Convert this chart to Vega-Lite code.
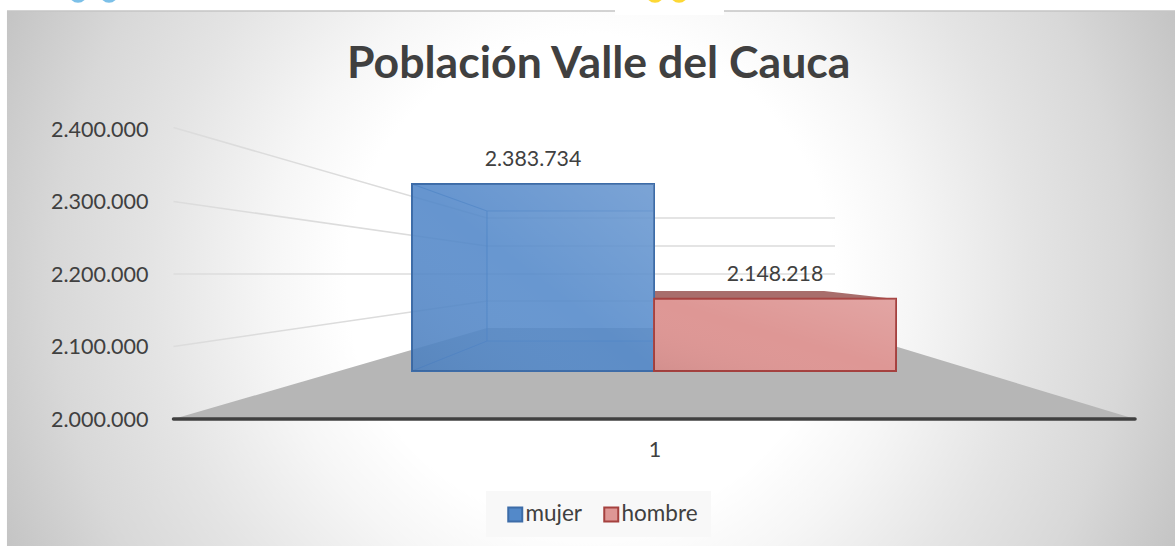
{
"$schema":"https://vega.github.io/schema/vega-lite/v6.json",
"width":1175,"height":546,"padding":0,"autosize":{"type":"none"},"background":"#ffffff",
"title":{"text":"Población Valle del Cauca","fontSize":44.6,"font":"Lato","fontWeight":"bold","color":"#404040","anchor":"start","frame":"group","offset":-102,"dx":347},
"config":{"view":{"stroke":null},"locale":{"number":{"decimal":",","thousands":".","grouping":[3],"currency":["","€"]}}},
"datasets":{
"poblacion":[{"sexo":"mujer","poblacion":2383734},{"sexo":"hombre","poblacion":2148218}],
"fondo":[{"pieza":"panel","x":0.3269,"x2":1.5411,"y":2562759,"y2":951724},{"pieza":"parche","x":0.95894,"x2":1.07225,"y":2577931,"y2":2557241},{"pieza":"leyenda","x":0.82484,"x2":1.05873,"y":1900690,"y2":1837241}],
"logos":[{"logo":"a","x":0.40073,"y":2586207},{"logo":"a","x":0.43295,"y":2586207},{"logo":"b","x":1.00052,"y":2586207},{"logo":"b","x":1.02547,"y":2586207}],
"caras":[
{"pieza":"suelo","x":0.5,"y":2000000,"y2":2000000},{"pieza":"suelo","x":0.82588,"y":2125517,"y2":2000000},{"pieza":"suelo","x":1.18763,"y":2125517,"y2":2000000},{"pieza":"suelo","x":1.4995,"y":2000000,"y2":2000000},
{"pieza":"izquierda","x":0.74792,"y":2324138,"y2":2066207},{"pieza":"izquierda","x":0.82588,"y":2286897,"y2":2107586},
{"pieza":"techo","x":0.74792,"y":2324138,"y2":2324138},{"pieza":"techo","x":0.82588,"y":2324138,"y2":2286897},{"pieza":"techo","x":0.99948,"y":2324138,"y2":2286897},
{"pieza":"base","x":0.74792,"y":2066207,"y2":2066207},{"pieza":"base","x":0.82588,"y":2107586,"y2":2066207},{"pieza":"base","x":0.99948,"y":2107586,"y2":2066207},
{"pieza":"tapa","x":0.99948,"y":2176552,"y2":2165517},{"pieza":"tapa","x":1.1762,"y":2176552,"y2":2165517},{"pieza":"tapa","x":1.25104,"y":2165517,"y2":2165517}
],
"rejilla":[
{"linea":"g4","x":0.5,"y":2402000},{"linea":"g4","x":0.82588,"y":2277241},{"linea":"g4","x":1.18763,"y":2277241},
{"linea":"g3","x":0.5,"y":2300000},{"linea":"g3","x":0.82588,"y":2238621},{"linea":"g3","x":1.18763,"y":2238621},
{"linea":"g2","x":0.5,"y":2200000},{"linea":"g2","x":0.82588,"y":2200000},{"linea":"g2","x":1.18763,"y":2200000},
{"linea":"g1","x":0.5,"y":2100000},{"linea":"g1","x":0.82588,"y":2162759},{"linea":"g1","x":1.18763,"y":2162759}
],
"marco":[{"linea":"t1","x":0.3269,"y":2562759},{"linea":"t1","x":0.95894,"y":2562759},{"linea":"t2","x":1.07225,"y":2562759},{"linea":"t2","x":1.5411,"y":2562759}],
"eje":[{"x":0.5,"y":2000000},{"x":1.4995,"y":2000000}],
"aristas":[
{"linea":"a","x":0.74792,"y":2324138},{"linea":"a","x":0.82588,"y":2286897},{"linea":"a","x":0.99948,"y":2286897},
{"linea":"b","x":0.74792,"y":2066207},{"linea":"b","x":0.82588,"y":2107586},{"linea":"b","x":0.99948,"y":2107586},
{"linea":"c","x":0.82588,"y":2286897},{"linea":"c","x":0.82588,"y":2107586}
]
},
"resolve":{"scale":{"x":"independent","y":"independent","fill":"independent","stroke":"independent"}},
"layer":[
{
"encoding":{
"x":{"field":"x","type":"quantitative","scale":{"domain":[0.31965,1.54106],"nice":false,"zero":false},"axis":{"values":[1],"format":"d","title":null,"orient":"bottom","offset":-107,"domain":false,"ticks":false,"grid":false,"labelPadding":0,"labelBaseline":"top","labelFont":"Lato","labelFontSize":21.5,"labelColor":"#404040","zindex":1}},
"y":{"field":"y","type":"quantitative","stack":null,"scale":{"domain":[1824828,2577931],"nice":false,"zero":false},"axis":{"values":[2000000,2100000,2200000,2300000,2400000],"labelExpr":"format(datum.value, ',')","title":null,"orient":"left","offset":-148,"domain":false,"ticks":false,"grid":false,"labelPadding":0,"labelOffset":1,"labelFont":"Lato","labelFontSize":21.5,"labelColor":"#404040","zindex":1}}
},
"layer":[
{"data":{"name":"fondo"},"transform":[{"filter":"datum.pieza==='panel'"}],"mark":{"type":"rect","fill":{"gradient":"radial","x1":0.5,"y1":0.23,"r1":0,"x2":0.5,"y2":0.23,"r2":0.55,"stops":[{"offset":0,"color":"#ffffff"},{"offset":0.38,"color":"#ffffff"},{"offset":0.5,"color":"#f6f6f6"},{"offset":0.685,"color":"#e4e4e4"},{"offset":0.836,"color":"#d8d8d8"},{"offset":1,"color":"#c4c4c4"}]}},"encoding":{"x2":{"field":"x2"},"y2":{"field":"y2"}}},
{"data":{"name":"marco"},"mark":{"type":"line","stroke":"#c4c4c4","strokeWidth":1.5},"encoding":{"detail":{"field":"linea"}}},
{"data":{"name":"fondo"},"transform":[{"filter":"datum.pieza==='parche'"}],"mark":{"type":"rect","fill":"#ffffff"},"encoding":{"x2":{"field":"x2"},"y2":{"field":"y2"}}},
{"data":{"name":"fondo"},"transform":[{"filter":"datum.pieza==='leyenda'"}],"mark":{"type":"rect","fill":"#f8f8f8"},"encoding":{"x2":{"field":"x2"},"y2":{"field":"y2"}}},
{"data":{"name":"logos"},"mark":{"type":"point","filled":true,"opacity":1,"size":314},"encoding":{"fill":{"field":"logo","type":"nominal","legend":null,"scale":{"domain":["a","b"],"range":["#7cc0e8","#fdd835"]}}}},
{"data":{"name":"caras"},"transform":[{"filter":"datum.pieza==='suelo'"}],"mark":{"type":"area","orient":"vertical","fill":"#b6b6b6"},"encoding":{"y2":{"field":"y2"}}},
{"data":{"name":"rejilla"},"mark":{"type":"line","stroke":"#dcdcdc","strokeWidth":1.6},"encoding":{"detail":{"field":"linea"}}},
{"data":{"name":"eje"},"mark":{"type":"line","stroke":"#404040","strokeWidth":3.5,"strokeCap":"round"}},
{"data":{"name":"caras"},"transform":[{"filter":"datum.pieza==='tapa'"}],"mark":{"type":"area","orient":"vertical","fill":"#a86e6c"},"encoding":{"y2":{"field":"y2"}}},
{"data":{"name":"caras"},"transform":[{"filter":"datum.pieza==='izquierda' || datum.pieza==='base' || datum.pieza==='techo'"}],"mark":{"type":"area","orient":"vertical","fill":"#3f6fae","fillOpacity":0.12},"encoding":{"y2":{"field":"y2"},"detail":{"field":"pieza"}}},
{"data":{"name":"aristas"},"mark":{"type":"line","stroke":"#3f6fae","strokeWidth":1.2,"strokeOpacity":0.8},"encoding":{"detail":{"field":"linea"}}}
]
},
{
"data":{"name":"poblacion"},
"encoding":{
"x":{"field":"sexo","type":"nominal","sort":null,"axis":null,"scale":{"domain":["mujer","hombre"],"range":[412,896],"paddingInner":0,"paddingOuter":0}},
"y":{"field":"poblacion","type":"quantitative","stack":null,"axis":null,"scale":{"domain":[1640878,2761338],"nice":false,"zero":false}}
},
"layer":[
{"mark":{"type":"bar","strokeWidth":2},"encoding":{
"y2":{"datum":2000000},
"fill":{"field":"sexo","type":"nominal","title":null,"sort":null,"scale":{"domain":["mujer","hombre"],"range":["#5389c9","#de9795"]},"legend":{"orient":"none","legendX":493,"legendY":492,"direction":"horizontal","padding":11,"symbolType":"square","symbolSize":196,"symbolStrokeWidth":2,"symbolOpacity":1,"labelFont":"Lato","labelFontSize":22.5,"labelColor":"#404040","labelOffset":-1,"columnPadding":17,"title":null}},
"fillOpacity":{"condition":{"test":"datum.sexo==='mujer'","value":0.88},"value":1},
"stroke":{"field":"sexo","type":"nominal","title":null,"sort":null,"scale":{"domain":["mujer","hombre"],"range":["#3d6ca8","#a5413f"]}}
}},
{"mark":{"type":"bar","fill":{"gradient":"linear","x1":1,"y1":0,"x2":0,"y2":1,"stops":[{"offset":0,"color":"rgba(255,255,255,0.14)"},{"offset":0.5,"color":"rgba(255,255,255,0)"},{"offset":1,"color":"rgba(0,0,0,0.05)"}]}},"encoding":{"y2":{"datum":2000000}}},
{"mark":{"type":"text","dy":-24,"font":"Lato","fontSize":21.3,"fill":"#404040","baseline":"middle"},"encoding":{"text":{"field":"poblacion","type":"quantitative","format":","}}}
]
}
]
}
